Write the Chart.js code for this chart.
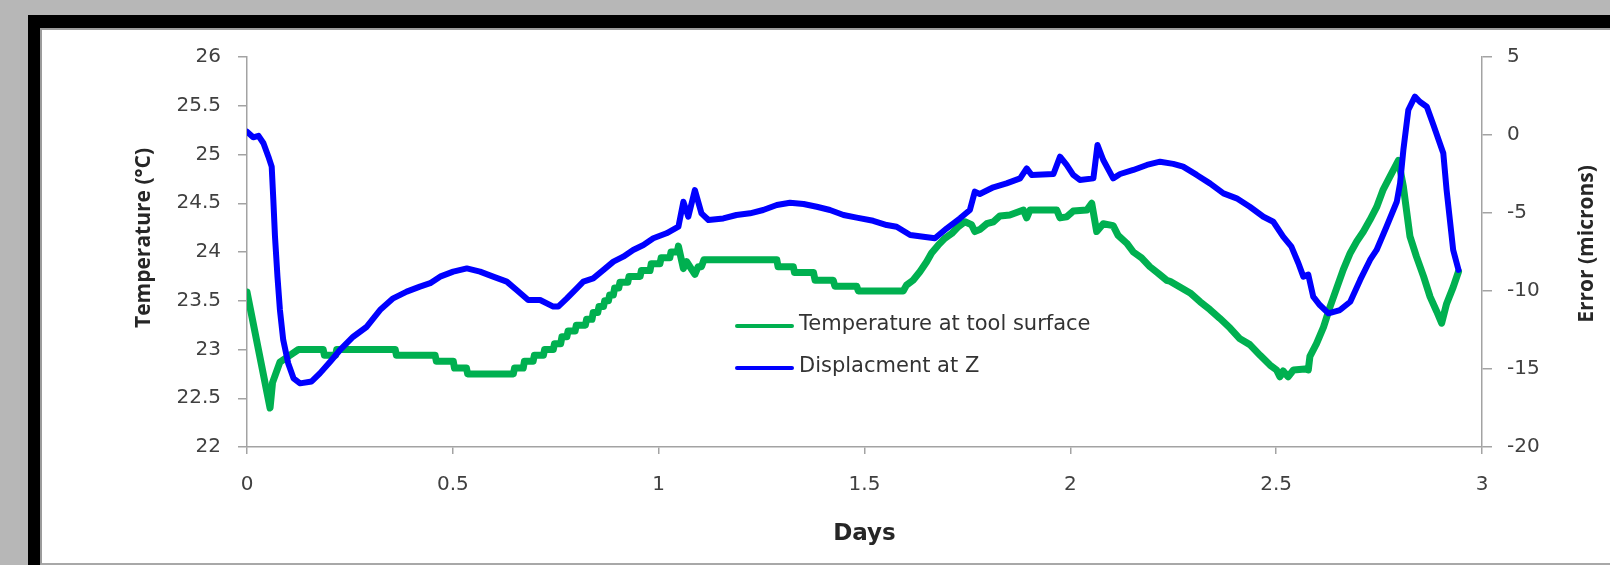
<!DOCTYPE html>
<html>
<head>
<meta charset="utf-8">
<title>Temperature and displacement</title>
<script src="https://cdn.jsdelivr.net/npm/chart.js@4.4.1/dist/chart.umd.min.js"></script>
<style>
  html, body { margin: 0; padding: 0; }
  body { width: 1610px; height: 565px; overflow: hidden; background: #b7b7b7; position: relative; }
  #frame { position: absolute; left: 28px; top: 15px; right: 0; bottom: 0; background: #000; }
  #sheet { position: absolute; left: 40px; top: 28px; right: 0; bottom: 0; background: #fff;
           border-left: 2px solid #9c9c9c; border-top: 2px solid #9c9c9c; border-bottom: 2px solid #a8a8a8; }
  #myChart { position: absolute; left: 0; top: 0; }
</style>
</head>
<body>
<div id="frame"></div>
<div id="sheet"></div>
<canvas id="myChart" width="1610" height="565"></canvas>
<script>
// temperature at the tool surface (left axis, deg C)
var tempDays = [0.000, 0.056, 0.062, 0.080, 0.104, 0.125, 0.185, 0.188, 0.215, 0.218, 0.360, 0.363,
  0.457, 0.460, 0.501, 0.504, 0.533, 0.536, 0.647, 0.650, 0.671, 0.674, 0.695, 0.698, 0.720, 0.723,
  0.744, 0.747, 0.762, 0.765, 0.777, 0.780, 0.797, 0.800, 0.822, 0.825, 0.838, 0.841, 0.852, 0.855,
  0.866, 0.869, 0.878, 0.881, 0.890, 0.893, 0.903, 0.906, 0.925, 0.928, 0.955, 0.958, 0.979, 0.982,
  1.003, 1.006, 1.027, 1.030, 1.045, 1.048, 1.060, 1.068, 1.088, 1.096, 1.104, 1.110, 1.287, 1.290,
  1.327, 1.330, 1.376, 1.380, 1.424, 1.428, 1.481, 1.485, 1.594, 1.602, 1.618, 1.635, 1.651, 1.663,
  1.679, 1.695, 1.712, 1.728, 1.744, 1.760, 1.768, 1.780, 1.797, 1.813, 1.829, 1.853, 1.886, 1.894,
  1.902, 1.967, 1.975, 1.991, 2.007, 2.040, 2.052, 2.064, 2.080, 2.104, 2.116, 2.137, 2.153, 2.173,
  2.193, 2.214, 2.234, 2.242, 2.266, 2.291, 2.315, 2.339, 2.363, 2.388, 2.412, 2.436, 2.461, 2.485,
  2.501, 2.509, 2.517, 2.529, 2.542, 2.570, 2.578, 2.582, 2.598, 2.615, 2.631, 2.647, 2.663, 2.680,
  2.696, 2.712, 2.728, 2.744, 2.760, 2.776, 2.797, 2.809, 2.825, 2.841, 2.858, 2.874, 2.890, 2.902,
  2.914, 2.930, 2.943];
var tempValues = [23.59, 22.40, 22.66, 22.87, 22.94, 23.00, 23.00, 22.94, 22.94, 23.00, 23.00, 22.94,
  22.94, 22.88, 22.88, 22.81, 22.81, 22.75, 22.75, 22.81, 22.81, 22.88, 22.88, 22.94, 22.94, 23.00,
  23.00, 23.06, 23.06, 23.13, 23.13, 23.19, 23.19, 23.25, 23.25, 23.31, 23.31, 23.38, 23.38, 23.44,
  23.44, 23.50, 23.50, 23.56, 23.56, 23.63, 23.63, 23.69, 23.69, 23.75, 23.75, 23.81, 23.81, 23.88,
  23.88, 23.94, 23.94, 24.00, 24.00, 24.06, 23.83, 23.90, 23.77, 23.85, 23.85, 23.92, 23.92, 23.85,
  23.85, 23.79, 23.79, 23.71, 23.71, 23.65, 23.65, 23.60, 23.60, 23.66, 23.71, 23.80, 23.90, 23.99,
  24.07, 24.14, 24.19, 24.26, 24.31, 24.28, 24.21, 24.23, 24.29, 24.31, 24.37, 24.38, 24.43, 24.35,
  24.43, 24.43, 24.35, 24.36, 24.42, 24.43, 24.50, 24.21, 24.29, 24.27, 24.17, 24.09, 24.00, 23.94,
  23.85, 23.78, 23.71, 23.70, 23.64, 23.58, 23.49, 23.41, 23.32, 23.22, 23.11, 23.05, 22.94, 22.84,
  22.79, 22.72, 22.78, 22.72, 22.79, 22.80, 22.79, 22.93, 23.06, 23.23, 23.44, 23.63, 23.82, 23.99,
  24.11, 24.21, 24.33, 24.46, 24.64, 24.77, 24.94, 24.67, 24.16, 23.95, 23.75, 23.54, 23.39, 23.27,
  23.47, 23.64, 23.80];

// displacement at Z (right axis, microns)
var dispDays = [0.000, 0.015, 0.028, 0.040, 0.052, 0.060, 0.064, 0.068, 0.074, 0.080, 0.088, 0.100,
  0.113, 0.129, 0.157, 0.177, 0.202, 0.226, 0.258, 0.291, 0.323, 0.355, 0.388, 0.420, 0.445, 0.469,
  0.501, 0.534, 0.566, 0.598, 0.631, 0.655, 0.683, 0.712, 0.744, 0.756, 0.777, 0.801, 0.817, 0.841,
  0.866, 0.890, 0.914, 0.938, 0.963, 0.987, 1.019, 1.048, 1.060, 1.072, 1.088, 1.104, 1.121, 1.157,
  1.189, 1.222, 1.254, 1.287, 1.319, 1.352, 1.384, 1.416, 1.449, 1.481, 1.521, 1.554, 1.578, 1.611,
  1.643, 1.671, 1.700, 1.732, 1.756, 1.768, 1.780, 1.813, 1.845, 1.878, 1.894, 1.906, 1.959, 1.975,
  1.991, 2.007, 2.023, 2.056, 2.066, 2.080, 2.104, 2.121, 2.153, 2.186, 2.218, 2.250, 2.274, 2.307,
  2.339, 2.372, 2.404, 2.436, 2.469, 2.493, 2.517, 2.537, 2.554, 2.566, 2.578, 2.590, 2.606, 2.627,
  2.655, 2.680, 2.704, 2.728, 2.744, 2.768, 2.793, 2.801, 2.809, 2.821, 2.837, 2.849, 2.866, 2.882,
  2.906, 2.914, 2.922, 2.930, 2.943];
var dispValues = [0.21, -0.15, -0.05, -0.53, -1.39, -2.03, -4.17, -6.52, -9.08, -11.22, -13.14, -14.63,
  -15.60, -15.92, -15.80, -15.28, -14.53, -13.78, -12.93, -12.29, -11.22, -10.47, -10.04, -9.72, -9.50, -9.08,
  -8.76, -8.55, -8.76, -9.08, -9.40, -9.94, -10.58, -10.58, -11.00, -11.00, -10.47, -9.83, -9.40, -9.19,
  -8.65, -8.12, -7.80, -7.37, -7.05, -6.62, -6.30, -5.88, -4.28, -5.24, -3.53, -5.02, -5.45, -5.35,
  -5.13, -5.02, -4.81, -4.49, -4.34, -4.42, -4.60, -4.81, -5.13, -5.30, -5.50, -5.77, -5.88, -6.41,
  -6.52, -6.62, -5.98, -5.34, -4.81, -3.63, -3.78, -3.35, -3.10, -2.78, -2.14, -2.56, -2.50, -1.39,
  -1.92, -2.56, -2.88, -2.78, -0.64, -1.60, -2.78, -2.50, -2.24, -1.92, -1.71, -1.85, -2.03, -2.56,
  -3.10, -3.74, -4.06, -4.60, -5.24, -5.56, -6.52, -7.16, -8.22, -9.08, -8.95, -10.36, -10.90, -11.43,
  -11.22, -10.69, -9.29, -8.01, -7.37, -5.88, -4.28, -3.10, -0.96, 1.60, 2.46, 2.13, 1.81, 0.64,
  -1.17, -3.53, -5.45, -7.37, -8.65];

var dayTicks = [0, 0.5, 1, 1.5, 2, 2.5, 3];
var tempTicks = [22, 22.5, 23, 23.5, 24, 24.5, 25, 25.5, 26];
var errorTicks = [-20, -15, -10, -5, 0, 5];

var axisGray = '#a3a3a3';
var tickFont = { family: 'DejaVu Sans', size: 20 };

function toPoints(xs, ys) {
  return xs.map(function (d, i) { return { x: d, y: ys[i] }; });
}
function fixedTicks(list) {
  return function (scale) { scale.ticks = list.map(function (v) { return { value: v }; }); };
}

// rotated axis titles, both read bottom to top
var sideTitles = {
  id: 'sideTitles',
  afterDraw: function (chart) {
    var c = chart.ctx;
    c.save();
    c.font = 'bold 21px "Open Sans"';
    c.fillStyle = '#262626';
    c.textAlign = 'center';
    c.textBaseline = 'alphabetic';
    [['Temperature (°C)', 150, 238], ['Error (microns)', 1593, 244]].forEach(function (t) {
      c.save();
      c.translate(t[1], t[2]);
      c.rotate(-Math.PI / 2);
      c.fillText(t[0], 0, 0);
      c.restore();
    });
    c.restore();
  }
};

// legend sitting inside the plot
var innerLegend = {
  id: 'innerLegend',
  afterDraw: function (chart) {
    var c = chart.ctx;
    var rows = [326, 368];
    c.save();
    c.font = '21px "DejaVu Sans"';
    c.textBaseline = 'middle';
    c.textAlign = 'left';
    chart.data.datasets.forEach(function (ds, i) {
      c.strokeStyle = ds.borderColor;
      c.lineWidth = 4;
      c.lineCap = 'round';
      c.beginPath();
      c.moveTo(737, rows[i]);
      c.lineTo(792, rows[i]);
      c.stroke();
      c.fillStyle = '#333333';
      c.fillText(ds.label, 799, rows[i] - 1);
    });
    c.restore();
  }
};

var ctx = document.getElementById('myChart');
var myChart = new Chart(ctx, {
  type: 'line',
  data: {
    datasets: [{
      label: 'Temperature at tool surface',
      data: toPoints(tempDays, tempValues),
      borderColor: '#00b050',
      borderWidth: 7,
      yAxisID: 'y',
      order: 1
    }, {
      label: 'Displacment at Z',
      data: toPoints(dispDays, dispValues),
      borderColor: '#0000ff',
      borderWidth: 6,
      yAxisID: 'y1',
      order: 0
    }]
  },
  options: {
    responsive: false,
    animation: false,
    devicePixelRatio: 1,
    layout: { padding: { top: 57, left: 0, right: 0, bottom: 0 } },
    elements: {
      point: { radius: 0 },
      line: { tension: 0, borderJoinStyle: 'round', borderCapStyle: 'round', fill: false }
    },
    plugins: {
      legend: { display: false },
      tooltip: { enabled: false }
    },
    scales: {
      x: {
        type: 'linear',
        min: 0,
        max: 3,
        afterBuildTicks: fixedTicks(dayTicks),
        afterFit: function (s) { s.height = 118; },
        grid: { drawOnChartArea: false, drawTicks: true, tickLength: 7, color: axisGray, lineWidth: 1.5 },
        border: { color: axisGray, width: 1.5 },
        ticks: { color: '#404040', font: tickFont, padding: 19, maxRotation: 0, autoSkip: false,
                 callback: function (v) { return String(v); } },
        title: { display: true, text: 'Days', color: '#262626',
                 font: { family: 'DejaVu Sans', size: 23, weight: 'bold' }, padding: { top: 0, bottom: 17 } }
      },
      y: {
        position: 'left',
        min: 22,
        max: 26,
        afterBuildTicks: fixedTicks(tempTicks),
        afterFit: function (s) { s.width = 247; },
        grid: { drawOnChartArea: false, drawTicks: true, tickLength: 9, color: axisGray, lineWidth: 1.5 },
        border: { color: axisGray, width: 1.5 },
        ticks: { color: '#404040', font: tickFont, padding: 17,
                 callback: function (v) { return String(v); } }
      },
      y1: {
        position: 'right',
        min: -20,
        max: 5,
        afterBuildTicks: fixedTicks(errorTicks),
        afterFit: function (s) { s.width = 128; },
        grid: { drawOnChartArea: false, drawTicks: true, tickLength: 10, color: axisGray, lineWidth: 1.5 },
        border: { color: axisGray, width: 1.5 },
        ticks: { color: '#404040', font: tickFont, padding: 15,
                 callback: function (v) { return String(v); } }
      }
    }
  },
  plugins: [sideTitles, innerLegend]
});
</script>
</body>
</html>
